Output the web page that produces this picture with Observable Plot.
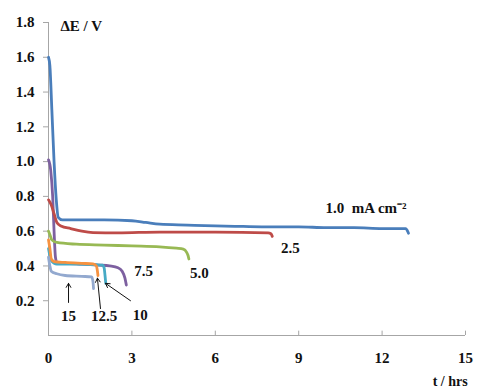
<!DOCTYPE html>
<html><head><meta charset="utf-8">
<script src="https://cdn.jsdelivr.net/npm/d3@7"></script>
<script src="https://cdn.jsdelivr.net/npm/@observablehq/plot@0.6"></script>
<style>
body{margin:0;background:#fff}
#chart svg text{font-family:"Liberation Serif","Times New Roman",serif !important;font-weight:bold !important;}
</style>
</head><body><div id="chart"></div>
<script>
// Discharge curves: [t (hrs), ΔE (V)]
const s1_0 = [[0,1.60],[0.05,1.55],[0.12,1.30],[0.2,1.00],[0.28,0.78],[0.35,0.68],[0.5,0.665],[1,0.665],[2,0.665],[3,0.66],[3.5,0.65],[4,0.64],[5,0.635],[6,0.63],[7,0.627],[8,0.625],[9,0.625],[10,0.62],[11,0.62],[12,0.615],[12.85,0.615],[12.9,0.605],[12.95,0.588]];
const s2_5 = [[0,0.78],[0.1,0.75],[0.2,0.70],[0.3,0.65],[0.45,0.63],[0.8,0.615],[1.2,0.60],[1.6,0.592],[2.5,0.59],[4,0.595],[6,0.595],[7.9,0.59],[8.0,0.585],[8.05,0.57]];
const s5_0 = [[0,0.60],[0.05,0.58],[0.12,0.55],[0.3,0.535],[1,0.525],[2,0.52],[3,0.515],[4,0.51],[4.6,0.502],[4.85,0.497],[4.97,0.478],[5.02,0.46],[5.05,0.44]];
const s7_5 = [[0,1.01],[0.08,0.95],[0.15,0.80],[0.2,0.60],[0.25,0.45],[0.3,0.42],[0.6,0.415],[1.2,0.41],[1.8,0.405],[2.2,0.40],[2.5,0.39],[2.65,0.37],[2.75,0.33],[2.8,0.29]];
const s10 = [[0,0.50],[0.1,0.43],[0.3,0.41],[1,0.41],[1.7,0.407],[1.95,0.405],[2.0,0.39],[2.03,0.35],[2.06,0.30]];
const s12_5 = [[0,0.55],[0.05,0.50],[0.1,0.44],[0.2,0.425],[0.6,0.42],[1.2,0.415],[1.6,0.412],[1.72,0.40],[1.76,0.37],[1.78,0.345]];
const s15 = [[0,0.45],[0.05,0.40],[0.1,0.37],[0.3,0.355],[0.6,0.345],[1.2,0.34],[1.55,0.337],[1.6,0.31],[1.62,0.27]];

const seriesNames = ["7.5","10","12.5","15","5.0","2.5","1.0"];
const seriesData = [s7_5, s10, s12_5, s15, s5_0, s2_5, s1_0];
const seriesColors = ["#7d60a0","#46aac5","#f69240","#93a9cf","#98b954","#be4b48","#4a7ebb"];

const xTicks = [0,3,6,9,12,15];
const yTicks = [0.2,0.4,0.6,0.8,1.0,1.2,1.4,1.6,1.8];

// curve labels (centered) at [t, V, text]
const curveLabels = [[8.7,0.50,"2.5"],[5.43,0.36,"5.0"],[3.42,0.37,"7.5"],[0.72,0.11,"15"],[2.0,0.11,"12.5"],[3.3,0.115,"10"]];
// left-anchored labels [t, V, text]
const startLabels = [[9.96,0.73,"1.0\u00a0 mA cm\u207b\u00b2"],[0.43,1.78,"\u0394E / V"]];
const endLabels = [[14.45,-0.265,"t / hrs"]];
// arrows [t1,V1,t2,V2]
const arrows = [[0.72,0.19,0.72,0.30],[1.87,0.155,1.76,0.33],[2.95,0.20,2.05,0.30]];

const rows = [];
seriesData.forEach((s,i)=>s.forEach(([t,v])=>rows.push({t,v,k:seriesNames[i]})));

const chart = Plot.plot({
  width: 481, height: 389,
  marginLeft: 48, marginRight: 16, marginTop: 22, marginBottom: 54,
  style: {fontSize: "15px", color: "#111", background: "#fff"},
  x: {domain: [0,15]},
  y: {domain: [0,1.8]},
  color: {domain: seriesNames, range: seriesColors},
  marks: [
    Plot.ruleY([0], {stroke: "#a6a6a6", strokeWidth: 1}),
    Plot.ruleX([0], {y1: 0, y2: 1.8, stroke: "#a6a6a6", strokeWidth: 1}),
    Plot.ruleX(xTicks, {y1: 0, y2: 0.025, stroke: "#a6a6a6"}),
    Plot.axisX({ticks: xTicks, tickSize: 0, tickPadding: 17, label: null, fontSize: 15}),
    Plot.axisY({ticks: yTicks, tickSize: 5, tickPadding: 9, stroke: "#a6a6a6", label: null, tickFormat: d3.format(".1f"), fontSize: 15}),
    Plot.line(rows, {x: "t", y: "v", z: "k", stroke: "k", strokeWidth: 2.8, curve: "monotone-x"}),
    Plot.arrow(arrows, {x1: d=>d[0], y1: d=>d[1], x2: d=>d[2], y2: d=>d[3], stroke: "#111", strokeWidth: 1, headLength: 7}),
    Plot.text(curveLabels, {x: d=>d[0], y: d=>d[1], text: d=>d[2], textAnchor: "middle", fill: "#111", fontSize: 15}),
    Plot.text(startLabels, {x: d=>d[0], y: d=>d[1], text: d=>d[2], textAnchor: "start", fill: "#111", fontSize: 15}),
    Plot.text(endLabels, {x: d=>d[0], y: d=>d[1], text: d=>d[2], textAnchor: "middle", fill: "#111", fontSize: 14})
  ]
});
document.getElementById("chart").append(chart);
</script></body></html>
